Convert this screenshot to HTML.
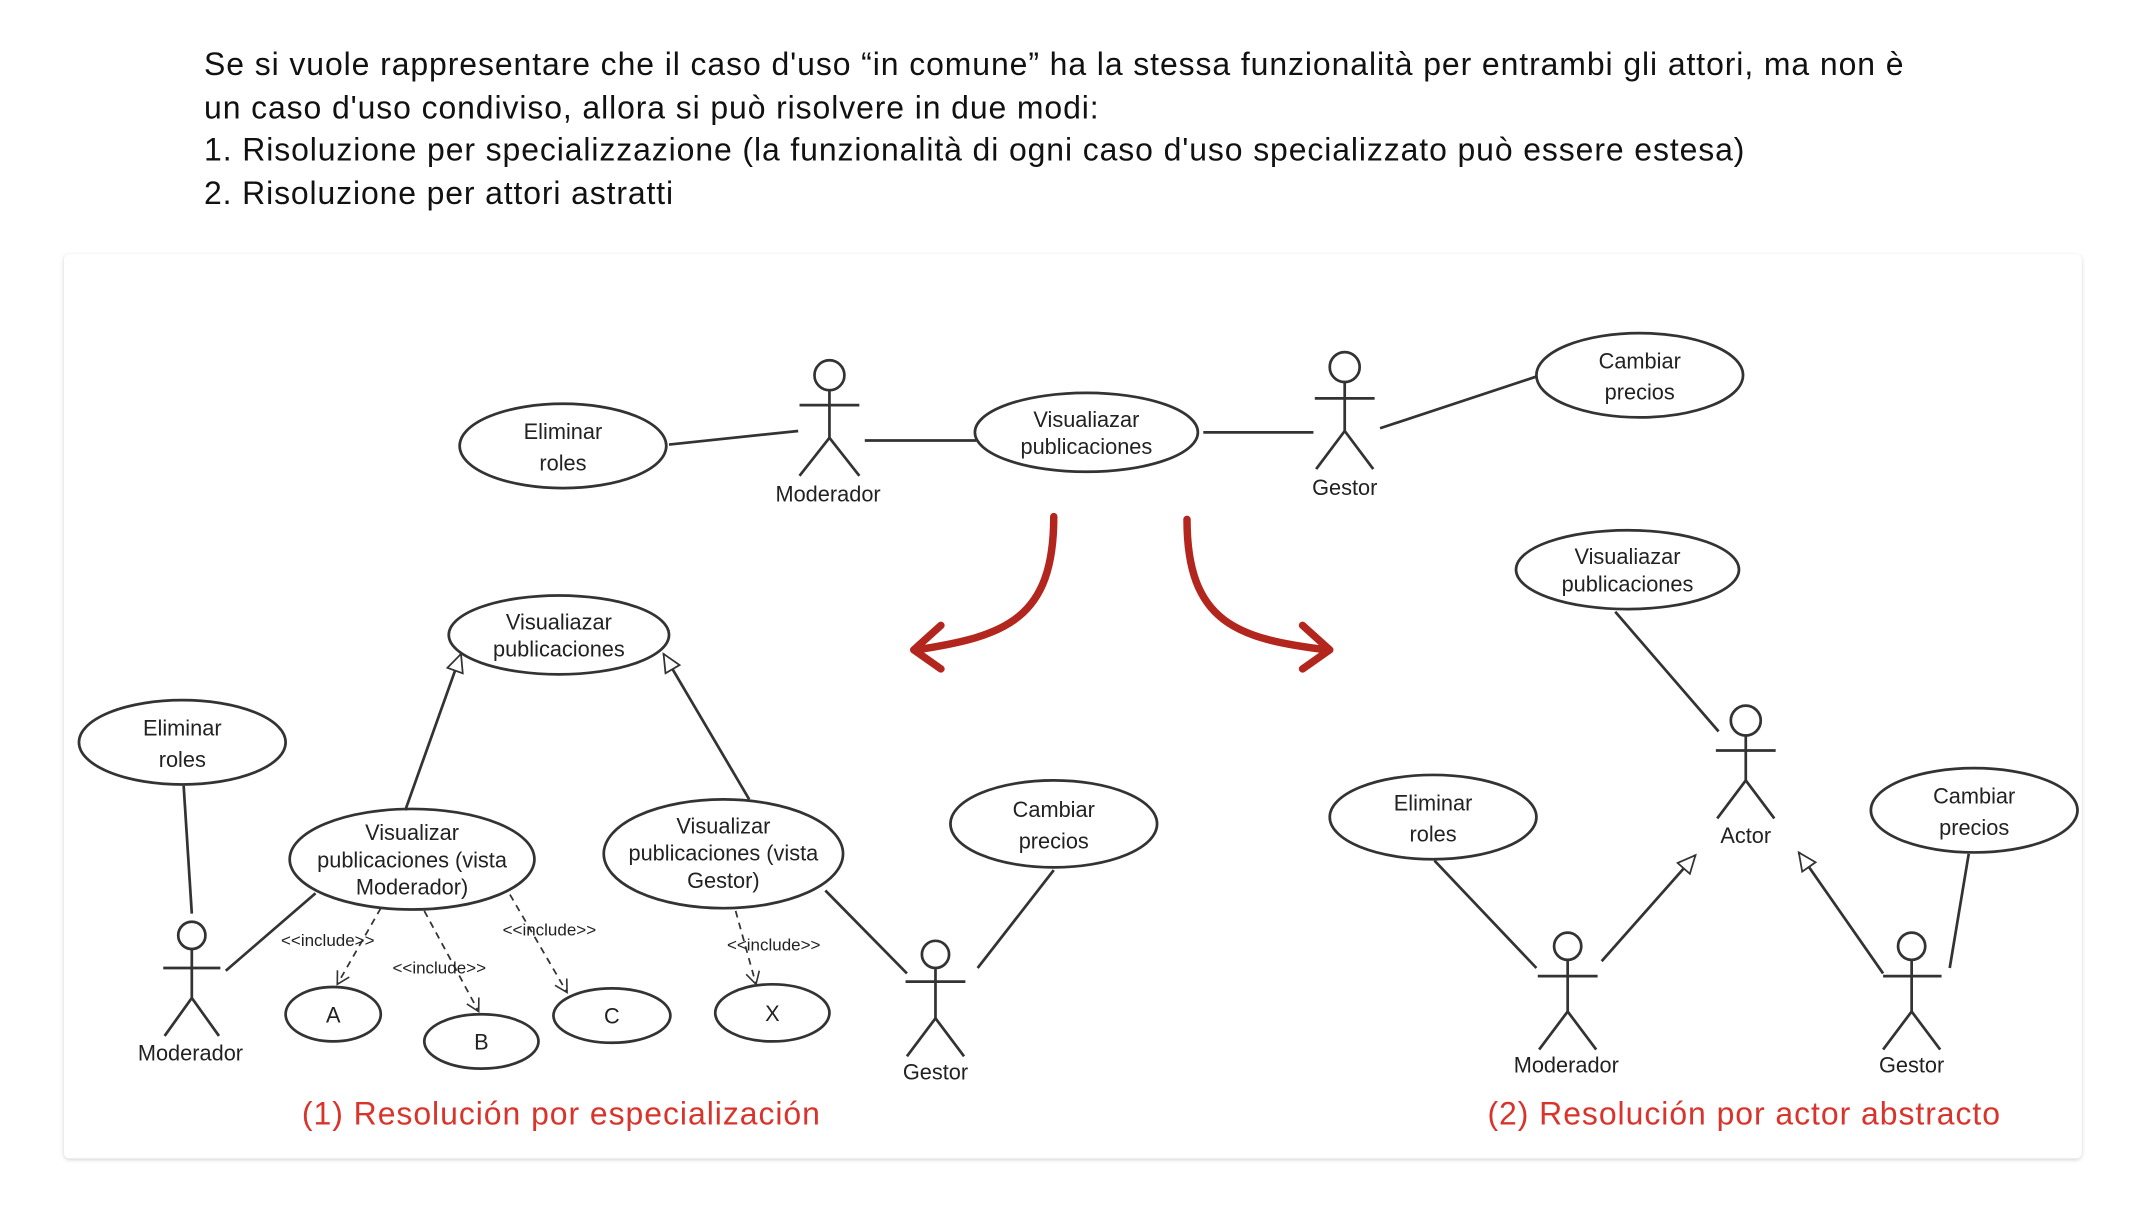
<!DOCTYPE html>
<html><head><meta charset="utf-8"><style>
html,body{margin:0;padding:0;background:#fff;}
svg{display:block;}
</style></head><body>
<svg width="2132" height="1210" viewBox="0 0 1568 890" xmlns="http://www.w3.org/2000/svg">
<defs>
<filter id="sh" x="-5%" y="-5%" width="110%" height="110%"><feDropShadow dx="0" dy="1" stdDeviation="1.5" flood-color="#000" flood-opacity="0.18"/></filter>
<marker id="tri" markerWidth="16" markerHeight="16" refX="14" refY="7" orient="auto" markerUnits="userSpaceOnUse"><path d="M1,1 L14,7 L1,13 z" fill="#fff" stroke="#333" stroke-width="1.3"/></marker>
<marker id="open" markerWidth="12" markerHeight="12" refX="10" refY="6" orient="auto" markerUnits="userSpaceOnUse"><path d="M1,1 L10,6 L1,11" fill="none" stroke="#333" stroke-width="1.2"/></marker>
</defs>
<rect width="1568" height="890" fill="#fff"/>
<g font-family="Liberation Sans, sans-serif" font-size="23.5" fill="#111" lengthAdjust="spacing">
<text x="150" y="55" textLength="1250">Se si vuole rappresentare che il caso d'uso “in comune” ha la stessa funzionalità per entrambi gli attori, ma non è</text>
<text x="150" y="87" textLength="658">un caso d'uso condiviso, allora si può risolvere in due modi:</text>
<text x="150" y="118" textLength="1133">1. Risoluzione per specializzazione (la funzionalità di ogni caso d'uso specializzato può essere estesa)</text>
<text x="150" y="150" textLength="345">2. Risoluzione per attori astratti</text>
</g>
<rect x="47" y="187" width="1484" height="665" rx="4" fill="#fff" filter="url(#sh)"/>
<g stroke="#333" stroke-width="2" fill="none">
<ellipse cx="414" cy="328" rx="76" ry="31" fill="#fff"/>
<line x1="492" y1="327" x2="587" y2="317"/>
<circle cx="610" cy="276" r="11"/><line x1="610" y1="287" x2="610" y2="322"/><line x1="588" y1="298" x2="632" y2="298"/><polyline points="588,350 610,322 632,350"/>
<line x1="636" y1="324" x2="718" y2="324"/>
<ellipse cx="799" cy="318" rx="82" ry="29" fill="#fff"/>
<line x1="885" y1="318" x2="966" y2="318"/>
<circle cx="989" cy="270" r="11"/><line x1="989" y1="281" x2="989" y2="317"/><line x1="967" y1="293" x2="1011" y2="293"/><polyline points="968,345 989,317 1010,345"/>
<line x1="1015" y1="315" x2="1130" y2="277"/>
<ellipse cx="1206" cy="276" rx="76" ry="31" fill="#fff"/>
<ellipse cx="411" cy="467" rx="81" ry="29" fill="#fff"/>
<ellipse cx="134" cy="546" rx="76" ry="31" fill="#fff"/>
<line x1="135" y1="578" x2="141" y2="672"/>
<circle cx="141" cy="688" r="10"/><line x1="141" y1="698" x2="141" y2="734"/><line x1="120" y1="712" x2="162" y2="712"/><polyline points="121,762 141,734 161,762"/>
<line x1="166" y1="714" x2="232" y2="657"/>
<ellipse cx="303" cy="632" rx="90" ry="37" fill="#fff"/>
<line x1="298" y1="596" x2="339" y2="481" marker-end="url(#tri)"/>
<ellipse cx="532" cy="628" rx="88" ry="40" fill="#fff"/>
<line x1="551" y1="588" x2="488" y2="481" marker-end="url(#tri)"/>
<ellipse cx="775" cy="606" rx="76" ry="32" fill="#fff"/>
<line x1="775" y1="640" x2="719" y2="712"/>
<circle cx="688" cy="702" r="10"/><line x1="688" y1="712" x2="688" y2="749"/><line x1="666" y1="722" x2="710" y2="722"/><polyline points="667,777 688,749 709,777"/>
<line x1="607" y1="655" x2="667" y2="716"/>
<ellipse cx="245" cy="746" rx="35" ry="20" fill="#fff"/>
<ellipse cx="354" cy="766" rx="42" ry="20" fill="#fff"/>
<ellipse cx="450" cy="747" rx="43" ry="20" fill="#fff"/>
<ellipse cx="568" cy="745" rx="42" ry="21" fill="#fff"/>
<g stroke-width="1.3" stroke-dasharray="5,4">
<line x1="280" y1="668" x2="248" y2="724" marker-end="url(#open)"/>
<line x1="312" y1="670" x2="352" y2="744" marker-end="url(#open)"/>
<line x1="375" y1="658" x2="417" y2="730" marker-end="url(#open)"/>
<line x1="541" y1="670" x2="556" y2="724" marker-end="url(#open)"/>
</g>
<ellipse cx="1197" cy="419" rx="82" ry="29" fill="#fff"/>
<line x1="1188" y1="450" x2="1264" y2="538"/>
<circle cx="1284" cy="530" r="11"/><line x1="1284" y1="541" x2="1284" y2="574"/><line x1="1262" y1="552" x2="1306" y2="552"/><polyline points="1263,602 1284,574 1305,602"/>
<ellipse cx="1054" cy="601" rx="76" ry="31" fill="#fff"/>
<line x1="1055" y1="633" x2="1130" y2="712"/>
<circle cx="1153" cy="696" r="10"/><line x1="1153" y1="706" x2="1153" y2="744"/><line x1="1131" y1="718" x2="1175" y2="718"/><polyline points="1132,772 1153,744 1174,772"/>
<line x1="1178" y1="707" x2="1247" y2="629" marker-end="url(#tri)"/>
<circle cx="1406" cy="696" r="10"/><line x1="1406" y1="706" x2="1406" y2="744"/><line x1="1385" y1="718" x2="1428" y2="718"/><polyline points="1385,772 1406,744 1427,772"/>
<line x1="1385" y1="716" x2="1323" y2="627" marker-end="url(#tri)"/>
<ellipse cx="1452" cy="596" rx="76" ry="31" fill="#fff"/>
<line x1="1448" y1="628" x2="1434" y2="712"/>
</g>
<g stroke="#b3261e" stroke-width="5.5" fill="none" stroke-linecap="round" stroke-linejoin="round">
<path d="M775,380 C775,455 740,468 674,478"/>
<polyline points="692,460 672,478 692,492"/>
<path d="M873,382 C873,458 910,470 976,478"/>
<polyline points="958,460 978,478 958,492"/>
</g>
<g font-family="Liberation Sans, DejaVu Sans, sans-serif" font-size="16" fill="#222" text-anchor="middle">
<text x="414" y="323">Eliminar</text><text x="414" y="346">roles</text>
<text x="609" y="369">Moderador</text>
<text x="799" y="314">Visualiazar</text><text x="799" y="334">publicaciones</text>
<text x="989" y="364">Gestor</text>
<text x="1206" y="271">Cambiar</text><text x="1206" y="294">precios</text>
<text x="411" y="463">Visualiazar</text><text x="411" y="483">publicaciones</text>
<text x="134" y="541">Eliminar</text><text x="134" y="564">roles</text>
<text x="140" y="780">Moderador</text>
<text x="303" y="618">Visualizar</text><text x="303" y="638">publicaciones (vista</text><text x="303" y="658">Moderador)</text>
<text x="532" y="613">Visualizar</text><text x="532" y="633">publicaciones (vista</text><text x="532" y="653">Gestor)</text>
<text x="775" y="601">Cambiar</text><text x="775" y="624">precios</text>
<text x="688" y="794">Gestor</text>
<text x="245" y="752">A</text><text x="354" y="772">B</text><text x="450" y="753">C</text><text x="568" y="751">X</text>
<g font-size="12.5">
<text x="241" y="696">&lt;&lt;include&gt;&gt;</text>
<text x="323" y="716">&lt;&lt;include&gt;&gt;</text>
<text x="404" y="688">&lt;&lt;include&gt;&gt;</text>
<text x="569" y="699">&lt;&lt;include&gt;&gt;</text>
</g>
<text x="1197" y="415">Visualiazar</text><text x="1197" y="435">publicaciones</text>
<text x="1284" y="620">Actor</text>
<text x="1054" y="596">Eliminar</text><text x="1054" y="619">roles</text>
<text x="1152" y="789">Moderador</text>
<text x="1406" y="789">Gestor</text>
<text x="1452" y="591">Cambiar</text><text x="1452" y="614">precios</text>
</g>
<g font-family="Liberation Sans, sans-serif" font-size="23.5" fill="#d9342b" lengthAdjust="spacing">
<text x="222" y="827" textLength="381">(1) Resolución por especialización</text>
<text x="1094" y="827" textLength="377">(2) Resolución por actor abstracto</text>
</g>
</svg>
</body></html>
